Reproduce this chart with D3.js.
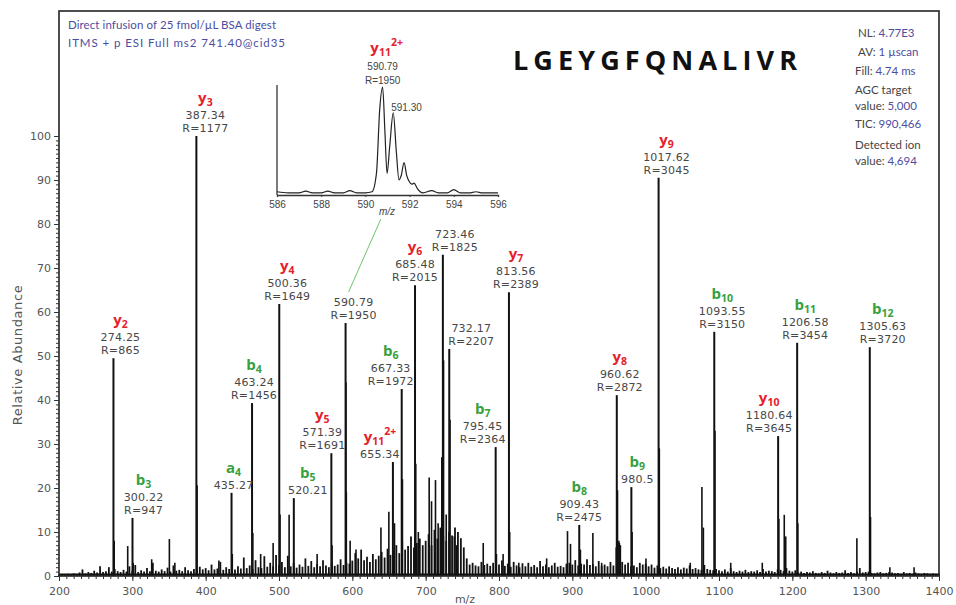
<!DOCTYPE html>
<html>
<head>
<meta charset="utf-8">
<script src="https://cdn.jsdelivr.net/npm/d3@7"></script>
<style>
  body { margin: 0; background: #fff; }
  .axis text { font-family: "DejaVu Sans", sans-serif; font-size: 11px; fill: #555; }
  .axis line { stroke: #333; }
  .num { font-family: "DejaVu Sans", sans-serif; font-size: 11px; fill: #474747; letter-spacing: 0.2px; }
  .ion { font-family: "Open Sans", sans-serif; font-weight: 700; font-size: 15px; }
  .info { font-family: Lato, sans-serif; font-size: 11.5px; }
  .inset text { font-family: "Liberation Sans", Arial, sans-serif; font-size: 10px; fill: #444; }
</style>
</head>
<body>
<div id="chart"></div>
<script>

// annotated fragment peaks
var labelMz    = [274.25, 300.22, 387.34, 435.27, 463.24, 500.36, 520.21, 571.39, 590.79, 655.34, 667.33, 685.48,
                  723.46, 732.17, 795.45, 813.56, 909.43, 960.62, 980.5, 1017.62, 1093.55, 1180.64, 1206.58, 1305.63];
var labelAbund = [49.5, 13.2, 100, 18.9, 39.3, 61.8, 17.7, 27.9, 57.5, 25.9, 42.5, 66.1,
                  73, 51.6, 29.3, 64.5, 11.6, 41.1, 20.2, 90.5, 55.5, 31.8, 53, 52];
var labelIon   = ["y2", "b3", "y3", "a4", "b4", "y4", "b5", "y5", "", "y11", "b6", "y6",
                  "", "", "b7", "y7", "b8", "y8", "b9", "y9", "b10", "y10", "b11", "b12"];
var labelCharge = ["", "", "", "", "", "", "", "", "", "2+", "", "",
                   "", "", "", "", "", "", "", "", "", "", "", ""];
var labelRes   = [865, 947, 1177, null, 1456, 1649, null, 1691, 1950, null, 1972, 2015,
                  1825, 2207, 2364, 2389, 2475, 2872, null, 3045, 3150, 3645, 3454, 3720];

// other visible peaks, [m/z, relative abundance]
var minorPeaks = [
  [275.3, 8], [293.7, 6.8], [301.2, 3], [326.4, 3.8], [350.5, 8.4], [358, 3], [388.3, 20.6], [418, 3.5],
  [436.3, 5], [464.3, 9.8], [475, 5], [492, 7.5], [501.4, 14], [513.8, 13.9], [552, 5], [572.4, 7],
  [591.3, 44], [591.8, 19], [597, 8], [605, 6], [639, 11], [649.8, 14.6], [657.5, 12], [668.3, 22],
  [686.5, 25.5], [690, 10], [704.8, 22.4], [708, 17], [713.4, 21.8], [717, 12], [722, 27], [724.4, 49],
  [728, 14], [733.2, 35.5], [739, 9], [742, 7], [778.5, 7.5], [796.5, 5], [805.6, 5], [814.6, 10],
  [827, 3], [865, 4], [893.4, 10.2], [897.5, 7.3], [911, 6], [928, 9.8], [940, 3], [961.6, 19.5],
  [963.5, 8], [965.5, 7], [981.5, 10], [1000.4, 4], [1018.6, 29], [1060.8, 3], [1076.7, 20.2], [1078.7, 11],
  [1094.5, 33], [1116, 3], [1159, 3], [1181.6, 13], [1189, 13.9], [1191, 9], [1207.5, 12], [1288, 8.6],
  [1306.6, 13.4], [1333, 2], [1366, 2]
];

// baseline chemical noise, one value every 4 m/z from 200
var noiseStart = 200, noiseStep = 4;
var noise = [
  0.3,0.4,0.3,0.5,0.4,0.6,0.5,0.8,1.5,0.6,0.9,0.7,1.2,0.8,2.2,0.9,1.1,2.0,1.0,1.6,1.1,0.9,1.4,1.0,2.2,
  1.2,2.5,0.9,1.3,1.0,1.8,1.1,3.0,1.2,1.0,1.5,1.1,1.9,1.0,2.4,1.2,1.4,1.1,2.0,1.3,1.1,1.6,1.2,2.1,1.5,
  1.8,1.3,2.6,1.5,1.7,3.2,1.4,2.0,1.6,3.5,1.5,2.2,1.7,4.2,1.8,2.4,1.6,3.6,2.0,1.8,4.5,2.1,3.0,2.2,4.8,
  2.5,3.2,2.0,4.6,2.2,3.0,1.9,2.6,2.1,4.0,2.3,3.4,2.0,2.8,2.2,3.6,2.4,2.0,3.0,2.3,2.6,3.8,2.5,3.0,2.8,
  3.5,5.2,4.0,6.0,3.6,4.4,3.2,5.0,3.8,4.6,5.5,4.2,6.2,4.8,5.8,7.0,5.2,8.0,6.0,6.8,9.0,6.5,7.5,8.5,7.0,
  8.0,9.5,7.0,10.5,8.5,11.0,9.0,8.0,10.0,9.2,11.0,10.0,8.6,6.5,4.0,2.6,3.0,2.4,2.2,3.2,2.5,2.8,2.3,3.0,2.4,
  2.6,3.5,2.3,2.8,2.1,3.2,2.4,2.0,2.9,2.2,3.0,2.1,2.5,2.0,3.4,2.2,2.6,2.0,2.4,3.0,2.1,2.3,2.0,2.8,3.0,
  2.6,3.6,2.4,2.8,2.6,3.8,2.5,2.7,2.2,3.4,2.3,2.6,2.2,3.2,2.4,6.5,7.5,3.2,2.6,3.0,2.2,2.4,2.0,3.0,2.6,
  2.8,2.2,2.6,1.9,2.4,1.8,2.1,1.7,2.2,1.8,1.6,2.0,1.5,1.9,1.7,2.4,1.6,1.8,1.5,1.4,2.5,1.6,1.4,1.3,1.6,
  1.3,1.1,1.5,1.0,1.8,1.1,0.9,1.2,1.0,1.4,0.9,1.1,1.0,1.3,0.9,1.6,1.0,1.2,1.1,0.9,1.5,1.4,1.1,1.8,1.2,
  1.0,1.3,0.8,1.0,0.7,0.9,0.8,1.1,0.7,0.6,0.9,0.7,1.2,0.8,0.6,0.9,0.7,0.8,1.3,0.7,0.9,0.6,1.0,1.8,0.8,
  0.9,1.0,0.7,0.6,0.8,0.9,0.6,0.7,0.9,0.8,0.6,0.7,0.5,0.9,0.6,0.7,0.5,0.8,0.6,0.5,0.7,0.6,0.5,0.6,0.5,
  0.5
];

// zoomed isotope profile of y11 2+ (inset)
var insetMz = [586.0, 586.5, 587.0, 587.3, 587.6, 588.0, 588.3, 588.6, 589.0, 589.3, 589.6, 590.0, 590.3,
               590.5, 590.65, 590.78, 590.88, 590.98, 591.1, 591.26, 591.4, 591.52, 591.62, 591.75, 591.87,
               591.97, 592.1, 592.2, 592.35, 592.6, 593.0, 593.3, 593.7, 594.0, 594.3, 594.7, 595.0, 595.3, 595.6, 596.0];
var insetAbund = [3, 2, 2, 3.5, 2, 2, 3.5, 2, 2, 4, 2, 2, 3,
                  20, 80, 100, 60, 20, 45, 76, 40, 14, 18, 30, 18,
                  13, 10, 11, 6, 2, 4, 2, 2, 5, 2, 2, 3, 2, 2, 2];
var insetTicks = [586, 588, 590, 592, 594, 596];

var headerLines = ["Direct infusion of 25 fmol/\u00b5L BSA digest", "ITMS + p ESI Full ms2 741.40@cid35"];
var sequence = "LGEYGFQNALIVR";
var infoKeys   = ["NL:", "AV:", "Fill:", "AGC target", "value:", "TIC:", "Detected ion", "value:"];
var infoValues = ["4.77E3", "1 \u00b5scan", "4.74 ms", "", "5,000", "990,466", "", "4,694"];

var yTicks = d3.range(0, 101, 10);
var xTicks = d3.range(200, 1401, 100);

var red = "#e5202c", green = "#36a03e", blue = "#4d4d9f";

var svg = d3.select("#chart").append("svg")
    .attr("width", 956)
    .attr("height", 605);

var x = d3.scaleLinear().domain([200, 1400]).range([59, 939]);
var y = d3.scaleLinear().domain([0, 100]).range([576, 136]);

// noise grass along the baseline
var noisePts = noise.map(function (v, i) { return [noiseStart + i * noiseStep, v]; });

svg.append("g").selectAll("line")
    .data(noisePts)
    .enter().append("line")
    .attr("x1", function (d) { return x(d[0]); })
    .attr("x2", function (d) { return x(d[0]); })
    .attr("y1", y(0))
    .attr("y2", function (d) { return y(d[1]); })
    .attr("stroke", "#111")
    .attr("stroke-width", 1.8);

svg.append("line")
    .attr("x1", x(200)).attr("x2", x(1400))
    .attr("y1", y(0) - 1.5).attr("y2", y(0) - 1.5)
    .attr("stroke", "#111")
    .attr("stroke-width", 2);

// peaks
svg.append("g").selectAll("line")
    .data(minorPeaks)
    .enter().append("line")
    .attr("x1", function (d) { return x(d[0]); })
    .attr("x2", function (d) { return x(d[0]); })
    .attr("y1", y(0))
    .attr("y2", function (d) { return y(d[1]); })
    .attr("stroke", "#111")
    .attr("stroke-width", 1.6);

svg.append("g").selectAll("line")
    .data(labelMz)
    .enter().append("line")
    .attr("x1", function (d) { return x(d); })
    .attr("x2", function (d) { return x(d); })
    .attr("y1", y(0))
    .attr("y2", function (d, i) { return y(labelAbund[i]); })
    .attr("stroke", "#111")
    .attr("stroke-width", 2);

// frame + axes
svg.append("rect")
    .attr("x", x(200))
    .attr("y", 11)
    .attr("width", x(1400) - x(200))
    .attr("height", y(0) - 11)
    .attr("fill", "none")
    .attr("stroke", "#222")
    .attr("stroke-width", 1.6);

var yMinor = svg.append("g").attr("class", "axis")
    .attr("transform", "translate(" + x(200) + ",0)")
    .call(d3.axisLeft(y).tickValues(d3.range(0, 101, 1)).tickSize(3).tickFormat(""));
var yMajor = svg.append("g").attr("class", "axis")
    .attr("transform", "translate(" + x(200) + ",0)")
    .call(d3.axisLeft(y).tickValues(yTicks).tickSize(5).tickPadding(3));
var xMinor = svg.append("g").attr("class", "axis")
    .attr("transform", "translate(0," + y(0) + ")")
    .call(d3.axisBottom(x).tickValues(d3.range(200, 1401, 10)).tickSize(3).tickFormat(""));
var xMajor = svg.append("g").attr("class", "axis")
    .attr("transform", "translate(0," + y(0) + ")")
    .call(d3.axisBottom(x).tickValues(xTicks).tickSize(5).tickPadding(6).tickFormat(d3.format("d")));
[yMinor, yMajor, xMinor, xMajor].forEach(function (g) { g.select(".domain").remove(); });

svg.append("text")
    .attr("transform", "translate(22,355) rotate(-90)")
    .attr("text-anchor", "middle")
    .attr("font-family", "DejaVu Sans, sans-serif")
    .attr("font-size", 13)
    .attr("letter-spacing", 0.6)
    .attr("fill", "#555")
    .text("Relative Abundance");

svg.append("text")
    .attr("x", 465).attr("y", 603)
    .attr("text-anchor", "middle")
    .attr("font-family", "DejaVu Sans, sans-serif")
    .attr("font-size", 11)
    .attr("fill", "#555")
    .text("m/z");

// peak labels (horizontal nudges as placed in the figure)
var labelDx = [7, 11, 9, 2, 2, 8, 14, -9, 8, -13, -11, 0, 12, 22, -13, 7, 0, 3, 6, 8, 8, -9, 8, 13];

function ionText(sel, ion, charge, color) {
    sel.attr("fill", color);
    sel.append("tspan").text(ion.charAt(0));
    sel.append("tspan").attr("font-size", 10.5).attr("dy", 3).text(ion.slice(1));
    if (charge) sel.append("tspan").attr("font-size", 10.5).attr("dy", -10).text(charge);
}

labelMz.forEach(function (mz, i) {
    var px = x(mz) + labelDx[i];
    var base = y(labelAbund[i]) - 4;
    var lines = [String(mz)];
    if (labelRes[i]) lines.push("R=" + labelRes[i]);
    var top = base - 13 * (lines.length - 1);
    lines.forEach(function (t, k) {
        svg.append("text").attr("class", "num")
            .attr("x", px).attr("y", top + 13 * k)
            .attr("text-anchor", "middle")
            .text(t);
    });
    if (labelIon[i]) {
        var c = labelIon[i].charAt(0) === "y" ? red : green;
        svg.append("text").attr("class", "ion")
            .attr("x", px).attr("y", top - 16)
            .attr("text-anchor", "middle")
            .call(ionText, labelIon[i], labelCharge[i], c);
    }
});

// header text
headerLines.forEach(function (t, i) {
    svg.append("text")
        .attr("x", 68).attr("y", 29 + 18 * i)
        .attr("font-family", "Lato, sans-serif")
        .attr("font-size", 11.5)
        .attr("fill", blue)
        .attr("textLength", i === 0 ? 208 : 217)
        .attr("lengthAdjust", "spacing")
        .text(t);
});

svg.append("text")
    .attr("x", 513).attr("y", 70)
    .attr("font-family", "Open Sans, sans-serif")
    .attr("font-weight", 700)
    .attr("font-size", 27)
    .attr("fill", "#111")
    .attr("textLength", 284)
    .attr("lengthAdjust", "spacing")
    .text(sequence);

var infoY = [37, 56, 75, 94, 110, 128, 149, 165];
infoKeys.forEach(function (k, i) {
    var t = svg.append("text").attr("class", "info")
        .attr("x", i < 2 ? 858 : 855).attr("y", infoY[i]);
    t.append("tspan").attr("fill", "#444").text(k);
    if (infoValues[i]) t.append("tspan").attr("fill", blue).text(" " + infoValues[i]);
});

// inset
var xi = d3.scaleLinear().domain([586, 596]).range([277, 498]);
var yi = d3.scaleLinear().domain([0, 100]).range([195, 87]);
var inset = svg.append("g").attr("class", "inset");

inset.append("line")
    .attr("x1", xi(586)).attr("x2", xi(586))
    .attr("y1", yi(0)).attr("y2", 85)
    .attr("stroke", "#333").attr("stroke-width", 1.3);

var ix = inset.append("g")
    .attr("transform", "translate(0," + yi(0) + ")")
    .call(d3.axisBottom(xi).tickValues(insetTicks).tickSize(2).tickPadding(4));
ix.select(".domain").attr("stroke", "#333").attr("stroke-width", 1.3);
ix.selectAll("line").attr("stroke", "#333");

inset.append("path")
    .datum(insetMz.map(function (m, i) { return [m, insetAbund[i]]; }))
    .attr("fill", "none")
    .attr("stroke", "#222")
    .attr("stroke-width", 1.2)
    .attr("d", d3.line().curve(d3.curveMonotoneX)
        .x(function (d) { return xi(d[0]); })
        .y(function (d) { return yi(d[1]); }));

inset.append("text")
    .attr("x", 387).attr("y", 215)
    .attr("text-anchor", "middle")
    .attr("font-style", "italic")
    .text("m/z");

inset.append("text").attr("x", xi(590.78)).attr("y", 70).attr("text-anchor", "middle").text("590.79");
inset.append("text").attr("x", xi(590.78)).attr("y", 84).attr("text-anchor", "middle").text("R=1950");
inset.append("text").attr("x", xi(591.26) - 2).attr("y", 111).text("591.30");

svg.append("text").attr("class", "ion")
    .attr("x", xi(590.78) + 4).attr("y", 53)
    .attr("text-anchor", "middle")
    .call(ionText, "y11", "2+", red);

// connector from the main 590.79 label to the inset
svg.append("line")
    .attr("x1", xi(590.7)).attr("y1", 219)
    .attr("x2", x(590.79) + 3).attr("y2", y(57.5) - 31)
    .attr("stroke", "#6cc46c")
    .attr("stroke-width", 1);

</script>
</body>
</html>
